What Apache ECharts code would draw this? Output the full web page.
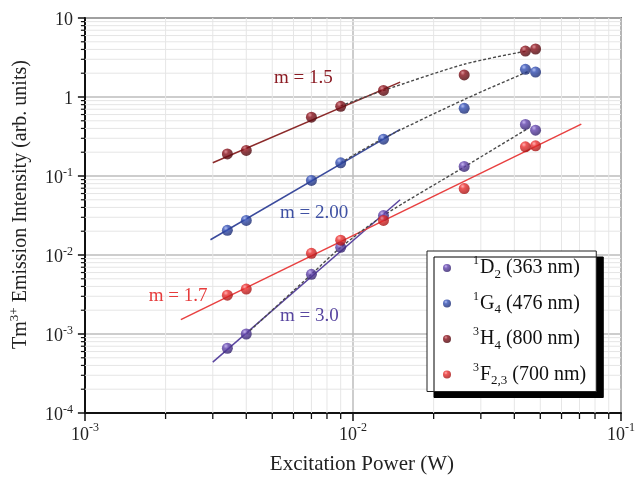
<!DOCTYPE html>
<html>
<head>
<meta charset="utf-8">
<script src="https://cdn.jsdelivr.net/npm/echarts@6/dist/echarts.min.js"></script>
<style>
  html, body { margin: 0; padding: 0; background: #fff; }
  #chart { width: 638px; height: 480px; }
</style>
</head>
<body>
<div id="chart"></div>
<script>
// Excitation power (W) shared by all four emission bands
const power = [0.0034, 0.004, 0.007, 0.009, 0.013, 0.026, 0.044, 0.048];

// Integrated emission intensity per band (arb. units)
const intD2  = [0.00066, 0.0010, 0.0057, 0.0125, 0.0316, 0.132, 0.45, 0.38];
const intG4  = [0.0205, 0.0274, 0.088, 0.147, 0.292, 0.72, 2.24, 2.07];
const intH4  = [0.19, 0.211, 0.556, 0.763, 1.21, 1.90, 3.82, 4.05];
const intF23 = [0.0031, 0.0037, 0.0105, 0.0154, 0.0274, 0.0694, 0.234, 0.241];

// Power-law fits (end points of each fitted segment)
const fitH4X  = [0.003, 0.015];   const fitH4Y  = [0.147, 1.54];
const fitG4X  = [0.00294, 0.015]; const fitG4Y  = [0.0156, 0.39];
const fitD2X  = [0.003, 0.015];   const fitD2Y  = [0.00044, 0.050];
const fitF23X = [0.00228, 0.0711]; const fitF23Y = [0.00152, 0.454];

// Saturation guide curves (dashed)
const guideH4X = [0.009, 0.013, 0.026, 0.044];
const guideH4Y = [0.77, 1.21, 2.6, 3.8];
const guideG4X = [0.009, 0.013, 0.026, 0.045];
const guideG4Y = [0.147, 0.30, 0.93, 2.1];
const guideD2X = [0.004, 0.007, 0.009, 0.013, 0.026, 0.045];
const guideD2Y = [0.001, 0.0057, 0.0125, 0.0316, 0.13, 0.40];

// Slope labels
const slopeLabels = ['m = 1.5', 'm = 2.00', 'm = 1.7', 'm = 3.0'];

// Series names and their legend markup
const bandNames = ['1D2 (363 nm)', '1G4 (476 nm)', '3H4 (800 nm)', '3F2,3 (700 nm)'];
const bandLegend = [
  '{sp|1}{b|D}{sub|2}{b| (363 nm)}',
  '{sp|1}{b|G}{sub|4}{b| (476 nm)}',
  '{sp|3}{b|H}{sub|4}{b| (800 nm)}',
  '{sp|3}{b|F}{sub|2,3}{b| (700 nm)}'
];

// Axis ranges and minor ticks (2..9 in each decade)
const X_MIN = 0.001, X_MAX = 0.1, Y_MIN = 1e-4, Y_MAX = 10;
const xMinor = [], yMinor = [];
for (let e = -3; e < -1; e++) for (let k = 2; k <= 9; k++) xMinor.push(+(k * Math.pow(10, e)).toPrecision(3));
for (let e = -4; e < 1; e++) for (let k = 2; k <= 9; k++) yMinor.push(+(k * Math.pow(10, e)).toPrecision(3));

const FONT = '"Liberation Serif", "Times New Roman", serif';

function sphere(light, base, dark) {
  return {
    type: 'radial', x: 0.36, y: 0.3, r: 0.75,
    colorStops: [
      { offset: 0, color: light },
      { offset: 0.3, color: base },
      { offset: 1, color: dark }
    ]
  };
}
const colD2  = sphere('#b8a4ec', '#6244ad', '#2e1e66');
const colG4  = sphere('#9fb0f0', '#3450b5', '#18276a');
const colH4  = sphere('#d87880', '#8a121c', '#45050a');
const colF23 = sphere('#ffa0a0', '#ec2e2e', '#9c1010');

const pairs = (xs, ys) => xs.map((x, i) => [x, ys[i]]);

function minorXItem(params, api) {
  const x = api.value(0);
  const b = api.coord([x, Y_MIN]);
  const t = api.coord([x, Y_MAX]);
  return {
    type: 'group',
    children: [
      { type: 'line', shape: { x1: b[0], y1: t[1], x2: b[0], y2: b[1] }, style: { stroke: '#e6e6e6', lineWidth: 1 } },
      { type: 'line', shape: { x1: b[0], y1: b[1], x2: b[0], y2: b[1] + 6 }, style: { stroke: '#111', lineWidth: 1.3 } }
    ]
  };
}
function minorYItem(params, api) {
  const y = api.value(1);
  const l = api.coord([X_MIN, y]);
  const r = api.coord([X_MAX, y]);
  return {
    type: 'group',
    children: [
      { type: 'line', shape: { x1: l[0], y1: l[1], x2: r[0], y2: l[1] }, style: { stroke: '#e6e6e6', lineWidth: 1 } },
      { type: 'line', shape: { x1: l[0] - 4, y1: l[1], x2: l[0], y2: l[1] }, style: { stroke: '#111', lineWidth: 1.2 } }
    ]
  };
}

function fitLine(xs, ys, color) {
  return {
    type: 'line', data: pairs(xs, ys), symbol: 'none', silent: true, z: 3,
    lineStyle: { color: color, width: 1.5 }
  };
}
function guideLine(xs, ys) {
  return {
    type: 'line', data: pairs(xs, ys), symbol: 'none', smooth: 0.25, silent: true, z: 4,
    lineStyle: { color: '#4a4a4a', width: 1.4, type: [3, 2] }
  };
}
function band(name, ys, color) {
  return {
    type: 'scatter', name: name, data: pairs(power, ys), symbol: 'circle', symbolSize: 11, z: 6,
    itemStyle: { color: color }
  };
}

const chart = echarts.init(document.getElementById('chart'), null, { renderer: 'canvas' });

chart.setOption({
  animation: false,
  backgroundColor: '#fff',
  grid: { left: 79, top: 18, right: 13, bottom: 61, show: true, borderColor: '#111', borderWidth: 1.5, backgroundColor: 'transparent' },
  xAxis: {
    type: 'log', logBase: 10, min: X_MIN, max: X_MAX,
    name: 'Excitation Power (W)', nameLocation: 'middle', nameGap: 40,
    nameTextStyle: { fontFamily: FONT, fontSize: 21, color: '#222', lineHeight: 22, padding: [0, 0, 0, 18] },
    axisLine: { show: true, onZero: false, lineStyle: { color: '#111', width: 2 } },
    axisTick: { show: true, length: 8, lineStyle: { color: '#111', width: 1.5 } },
    axisLabel: {
      margin: 9,
      formatter: v => '{b|10}{s|' + Math.round(Math.log10(v)) + '}',
      rich: {
        b: { fontFamily: FONT, fontSize: 18, lineHeight: 18, color: '#222', padding: [9, 0, 0, 0] },
        s: { fontFamily: FONT, fontSize: 12, lineHeight: 12, color: '#222', verticalAlign: 'top' }
      }
    },
    splitLine: { show: true, lineStyle: { color: '#bdbdbd', width: 1.5 } }
  },
  yAxis: {
    type: 'log', logBase: 10, min: Y_MIN, max: Y_MAX,
    name: 'Tm{s|3+} Emission Intensity (arb. units)', nameLocation: 'middle', nameGap: 39,
    nameTextStyle: {
      fontFamily: FONT, fontSize: 20, color: '#222', lineHeight: 26, padding: [0, 0, 0, 22],
      rich: { s: { fontFamily: FONT, fontSize: 13, lineHeight: 13, color: '#222', verticalAlign: 'top' } }
    },
    axisLine: { show: true, onZero: false, lineStyle: { color: '#111', width: 2 } },
    axisTick: { show: true, length: 7, lineStyle: { color: '#111', width: 1.5 } },
    axisLabel: {
      margin: 12,
      formatter: v => {
        const e = Math.round(Math.log10(v));
        if (e === 1) return '{b|10}';
        if (e === 0) return '{b|1}';
        return '{b|10}{s|' + e + '}';
      },
      rich: {
        b: { fontFamily: FONT, fontSize: 18, lineHeight: 18, color: '#222', padding: [4, 0, 0, 0] },
        s: { fontFamily: FONT, fontSize: 12, lineHeight: 12, color: '#222', verticalAlign: 'top' }
      }
    },
    splitLine: { show: true, lineStyle: { color: '#bdbdbd', width: 1.5 } }
  },
  legend: {
    data: bandNames,
    orient: 'vertical', left: 427, top: 251,
    padding: [4, 10, 4, 16], itemGap: 9.5, itemWidth: 8, itemHeight: 8, icon: 'circle',
    selectedMode: false,
    backgroundColor: '#fff', borderColor: '#222', borderWidth: 1,
    shadowColor: '#000', shadowBlur: 0, shadowOffsetX: 7, shadowOffsetY: 6,
    formatter: n => bandLegend[bandNames.indexOf(n)],
    textStyle: {
      fontFamily: FONT, fontSize: 20, color: '#111',
      rich: {
        b: { fontFamily: FONT, fontSize: 20, lineHeight: 26, color: '#111' },
        sp: { fontFamily: FONT, fontSize: 12, lineHeight: 12, color: '#111', verticalAlign: 'top', padding: [0, 1, 0, 17] },
        sub: { fontFamily: FONT, fontSize: 13, lineHeight: 13, color: '#111', verticalAlign: 'bottom' }
      }
    }
  },
  graphic: [
    { type: 'text', x: 274, y: 77.7, style: { text: slopeLabels[0], font: '19px ' + FONT, fill: '#8b1c24', verticalAlign: 'middle' }, z: 10 },
    { type: 'text', x: 280, y: 213.3, style: { text: slopeLabels[1], font: '19px ' + FONT, fill: '#3f51a3', verticalAlign: 'middle' }, z: 10 },
    { type: 'text', x: 148.7, y: 296, style: { text: slopeLabels[2], font: '19px ' + FONT, fill: '#e63b3b', verticalAlign: 'middle' }, z: 10 },
    { type: 'text', x: 280, y: 315.7, style: { text: slopeLabels[3], font: '19px ' + FONT, fill: '#5846a0', verticalAlign: 'middle' }, z: 10 }
  ],
  series: [
    { type: 'custom', silent: true, z: 1, clip: false, renderItem: minorXItem, data: xMinor.map(v => [v, Y_MIN]) },
    { type: 'custom', silent: true, z: 1, clip: false, renderItem: minorYItem, data: yMinor.map(v => [X_MIN, v]) },
    fitLine(fitH4X, fitH4Y, '#8b2a2a'),
    fitLine(fitG4X, fitG4Y, '#3a4a9c'),
    fitLine(fitD2X, fitD2Y, '#5a45a0'),
    fitLine(fitF23X, fitF23Y, '#e84040'),
    guideLine(guideH4X, guideH4Y),
    guideLine(guideG4X, guideG4Y),
    guideLine(guideD2X, guideD2Y),
    band(bandNames[0], intD2, colD2),
    band(bandNames[1], intG4, colG4),
    band(bandNames[2], intH4, colH4),
    band(bandNames[3], intF23, colF23)
  ]
});
</script>
</body>
</html>
